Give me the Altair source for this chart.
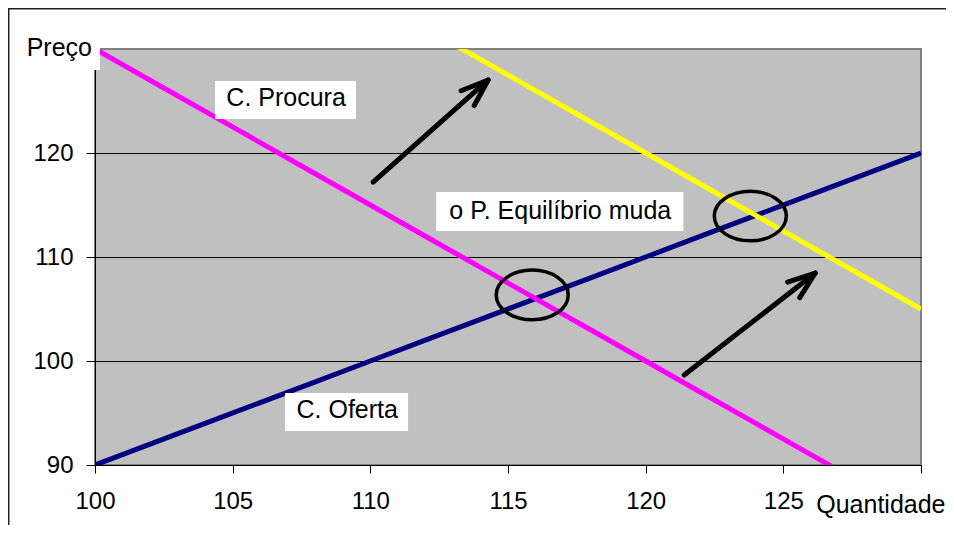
import altair as alt
import pandas as pd
import numpy as np

# ---- data ----
supply_q = [100, 102, 104, 106, 108, 110, 112, 114, 116, 118, 120, 122, 124, 126, 128, 130]
supply_p = [90, 92, 94, 96, 98, 100, 102, 104, 106, 108, 110, 112, 114, 116, 118, 120]

demand_q = [100, 102, 104, 106, 108, 110, 112, 114, 116, 118, 120, 122, 124, 126, 128]
demand_p = [130, 127, 124, 121, 118, 115, 112, 109, 106, 103, 100, 97, 94, 91, 88]

demand2_q = [112, 114, 116, 118, 120, 122, 124, 126, 128, 130]
demand2_p = [132, 129, 126, 123, 120, 117, 114, 111, 108, 105]

x_ticks = [100, 105, 110, 115, 120, 125, 130]
y_ticks = [90, 100, 110, 120]

# annotations (data coordinates)
label_text = ["C. Procura", "o P. Equilíbrio muda", "C. Oferta"]
label_q = [106.94, 116.90, 109.16]
label_p = [125.31, 114.44, 95.29]
box_q1 = [104.36, 112.39, 106.90]
box_q2 = [109.48, 121.37, 111.37]
box_p1 = [126.92, 116.25, 96.92]
box_p2 = [123.27, 112.50, 93.27]

eq_q = [115.88, 123.80]
eq_p = [106.35, 113.94]

arrow_q1 = [110.10, 121.40]
arrow_p1 = [117.21, 98.65]
arrow_q2 = [114.28, 126.16]
arrow_p2 = [127.02, 108.46]

W, H = 826, 416
FONT = "Liberation Sans"

xs = alt.Scale(domain=[100, 130], nice=False, zero=False)
ys = alt.Scale(domain=[90, 130], nice=False, zero=False)

kx = W / 30.0
ky = H / 40.0

sup_df = pd.DataFrame({"q": supply_q, "p": supply_p})
dem_df = pd.DataFrame({"q": demand_q, "p": demand_p})
dem2_df = pd.DataFrame({"q": demand2_q, "p": demand2_p})

lab_df = pd.DataFrame({"t": label_text, "q": label_q, "p": label_p,
                       "q1": box_q1, "q2": box_q2, "p1": box_p1, "p2": box_p2})
eq_df = pd.DataFrame({"q": eq_q, "p": eq_p})
arr_df = pd.DataFrame({"q1": arrow_q1, "p1": arrow_p1, "q2": arrow_q2, "p2": arrow_p2})
arr_df["ang"] = np.degrees(np.arctan2((arr_df.q2 - arr_df.q1) * kx, (arr_df.p2 - arr_df.p1) * ky))

xaxis = alt.Axis(values=x_ticks, labelExpr="datum.value == 130 ? '' : datum.label",
                 tickSize=8, tickColor="black", domainColor="black", labelColor="black",
                 labelFont=FONT, labelFontSize=24, labelPadding=16, labelFlush=False,
                 labelOverlap=False, grid=False, title=None)
yaxis = alt.Axis(values=y_ticks, tickSize=9, tickColor="black", domainColor="black",
                 labelColor="black", labelFont=FONT, labelFontSize=24, labelPadding=13,
                 labelFlush=False, labelOverlap=False, grid=True, gridColor="black",
                 gridWidth=1, title=None)

base_x = alt.X("q:Q", scale=xs, axis=xaxis)
base_y = alt.Y("p:Q", scale=ys, axis=yaxis)

LW = 5
sup = alt.Chart(sup_df).mark_line(color="#000080", strokeWidth=LW, clip=True).encode(x=base_x, y=base_y)
dem = alt.Chart(dem_df).mark_line(color="#FF00FF", strokeWidth=LW, clip=True).encode(
    x=alt.X("q:Q", scale=xs), y=alt.Y("p:Q", scale=ys))
dem2 = alt.Chart(dem2_df).mark_line(color="#FFFF00", strokeWidth=LW, clip=True).encode(
    x=alt.X("q:Q", scale=xs), y=alt.Y("p:Q", scale=ys))

ellipse_path = "M -1 0 A 1 0.69 0 1 1 1 0 A 1 0.69 0 1 1 -1 0 Z"
eqs = alt.Chart(eq_df).mark_point(shape=ellipse_path, filled=False, stroke="black",
                                  strokeWidth=3.5, size=5184, opacity=1).encode(
    x=alt.X("q:Q", scale=xs), y=alt.Y("p:Q", scale=ys))

shafts = alt.Chart(arr_df).mark_rule(color="black", strokeWidth=5, strokeCap="round").encode(
    x=alt.X("q1:Q", scale=xs), y=alt.Y("p1:Q", scale=ys),
    x2="q2:Q", y2="p2:Q")

head_path = "M -0.36 1 L 0 0 L 0.36 1"
heads = alt.Chart(arr_df).mark_point(shape=head_path, filled=False, stroke="black",
                                     strokeWidth=5, strokeCap="round", strokeJoin="round",
                                     size=3000, opacity=1).encode(
    x=alt.X("q2:Q", scale=xs), y=alt.Y("p2:Q", scale=ys),
    angle=alt.Angle("ang:Q", scale=None))

boxes = alt.Chart(lab_df).mark_rect(fill="white", stroke=None).encode(
    x=alt.X("q1:Q", scale=xs), x2="q2:Q", y=alt.Y("p1:Q", scale=ys), y2="p2:Q")
texts = alt.Chart(lab_df).mark_text(font=FONT, fontSize=25, color="black",
                                    align="center", baseline="middle").encode(
    x=alt.X("q:Q", scale=xs), y=alt.Y("p:Q", scale=ys), text="t:N")

# axis captions
cap_df = pd.DataFrame({"t": ["Preço", "Quantidade"], "q": [99.89, 130.89], "p": [130.1, 86.15],
                       "q1": [97.0, 0], "q2": [100.18, 0], "p1": [131.5, 0], "p2": [127.98, 0]})
cap_box = alt.Chart(cap_df.iloc[:1]).mark_rect(fill="white").encode(
    x=alt.X("q1:Q", scale=xs), x2="q2:Q", y=alt.Y("p1:Q", scale=ys), y2="p2:Q")
cap_text = alt.Chart(cap_df).mark_text(font=FONT, fontSize=25, color="black",
                                       align="right", baseline="middle").encode(
    x=alt.X("q:Q", scale=xs), y=alt.Y("p:Q", scale=ys), text="t:N")

one = pd.DataFrame({"a": [0]})
border_left = alt.Chart(one).mark_rule(color="#222222", strokeWidth=2).encode(
    x=alt.value(-86.5), y=alt.value(-41), y2=alt.value(H + 60))
border_top = alt.Chart(one).mark_rule(color="#222222", strokeWidth=2).encode(
    x=alt.value(-87), x2=alt.value(W + 25), y=alt.value(-40.5))

chart = alt.layer(sup, dem, dem2, eqs, shafts, heads, boxes, texts, cap_box, cap_text,
                  border_left, border_top).properties(
    width=W, height=H,
    autosize=alt.AutoSizeParams(type="none"),
    padding={"left": 87, "top": 41, "right": 25, "bottom": 60},
    background="white",
).configure_view(fill="#C0C0C0", stroke="#808080", strokeWidth=2)

chart.save("out.html", embed_options={"renderer": "svg", "actions": False})
